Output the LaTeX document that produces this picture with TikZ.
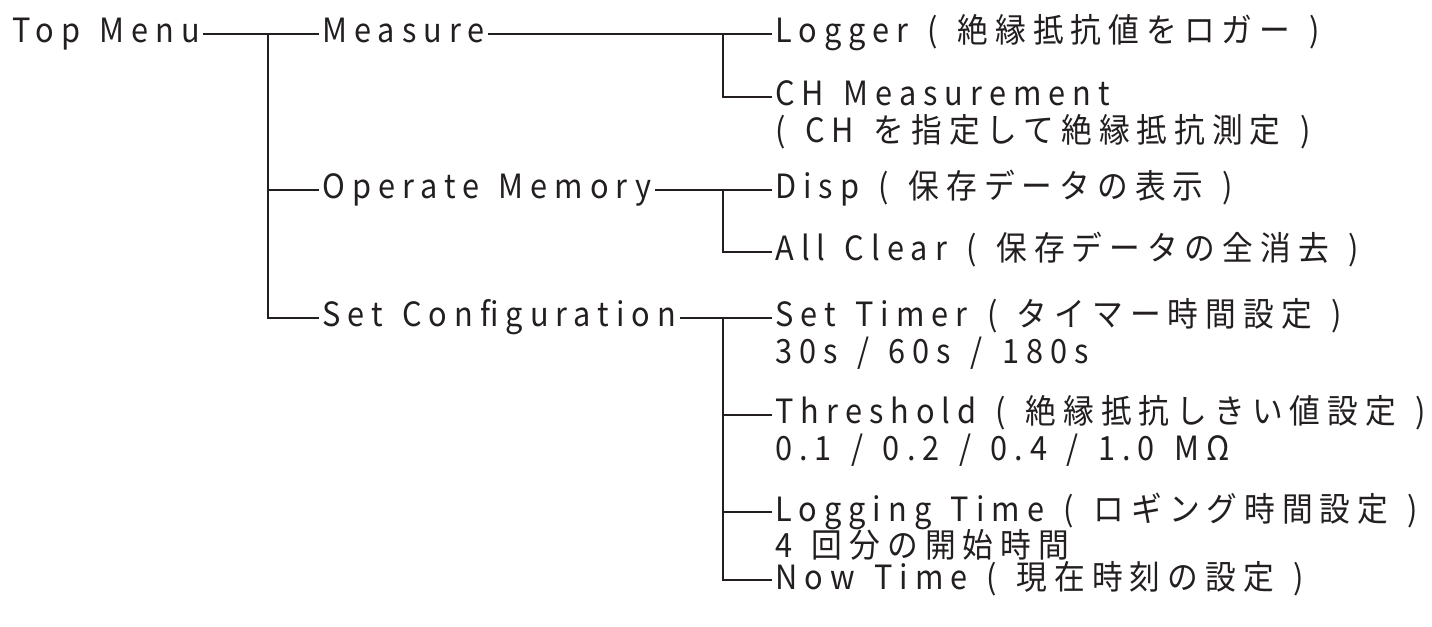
\documentclass[tikz,border=0pt]{standalone}
\usepackage{fontspec}
\setmainfont[LetterSpace=21, FakeStretch=0.92, WordSpace=1.4]{Noto Sans CJK JP}
\usetikzlibrary{positioning, calc}
\definecolor{ink}{HTML}{231F20}

\begin{document}
\begin{tikzpicture}[
    item/.style = {font=\fontsize{19}{22}\selectfont, text=ink, inner xsep=0.06cm, inner ysep=0pt,
                   text height=0.36cm, text depth=0pt, anchor=west},
    subline/.style = {item, anchor=base west},
    branch/.style = {draw=ink, line width=1.25pt}
]
\useasboundingbox (0,0) rectangle (28.64,-12.54);

% --- root ---
\node[item] (top) at (0.18,-0.68) {Top Menu};

% --- level 1 ---
\node[item] (measure) at (6.38,-0.68) {Measure};
\node[item] (memory) at (6.38,-3.80) {Operate Memory};
\node[item] (config) at (6.38,-6.36) {Set Configuration};

% --- level 2: Measure ---
\node[item] (logger) at (15.44,-0.68) {Logger ( 絶縁抵抗値をロガー )};
\node[item] (chmeas) at (15.44,-1.94) {CH Measurement};
\node[subline] (chmeas2) at ([yshift=-0.73cm]chmeas.base west) {( CH を指定して絶縁抵抗測定 )};

% --- level 2: Operate Memory ---
\node[item] (disp) at (15.44,-3.80) {Disp ( 保存データの表示 )};
\node[item] (clear) at (15.44,-5.04) {All Clear ( 保存データの全消去 )};

% --- level 2: Set Configuration ---
\node[item] (timer) at (15.44,-6.36) {Set Timer ( タイマー時間設定 )};
\node[subline] (timer2) at ([yshift=-0.73cm]timer.base west) {30s / 60s / 180s};
\node[item] (thresh) at (15.44,-8.30) {Threshold ( 絶縁抵抗しきい値設定 )};
\node[subline] (thresh2) at ([yshift=-0.73cm]thresh.base west) {0.1 / 0.2 / 0.4 / 1.0 MΩ};
\node[item] (logtime) at (15.44,-10.24) {Logging Time ( ロギング時間設定 )};
\node[subline] (logtime2) at ([yshift=-0.73cm]logtime.base west) {4 回分の開始時間};
\node[item] (now) at (15.44,-11.60) {Now Time ( 現在時刻の設定 )};

% --- junction points ---
\coordinate (j0) at ([xshift=-1.02cm]measure.west);
\coordinate (j1) at ([xshift=-0.98cm]logger.west);
\coordinate (j2) at ([xshift=-0.98cm]disp.west);
\coordinate (j3) at ([xshift=-0.98cm]timer.west);

% --- branches ---
\draw[branch] (top.east) -- (measure.west);
\draw[branch] (j0) |- (memory.west);
\draw[branch] (j0) |- (config.west);

\draw[branch] (measure.east) -- (logger.west);
\draw[branch] (j1) |- (chmeas.west);

\draw[branch] (memory.east) -- (disp.west);
\draw[branch] (j2) |- (clear.west);

\draw[branch] (config.east) -- (timer.west);
\draw[branch] (j3) |- (thresh.west);
\draw[branch] (j3) |- (logtime.west);
\draw[branch] (j3) |- (now.west);

\end{tikzpicture}
\end{document}
